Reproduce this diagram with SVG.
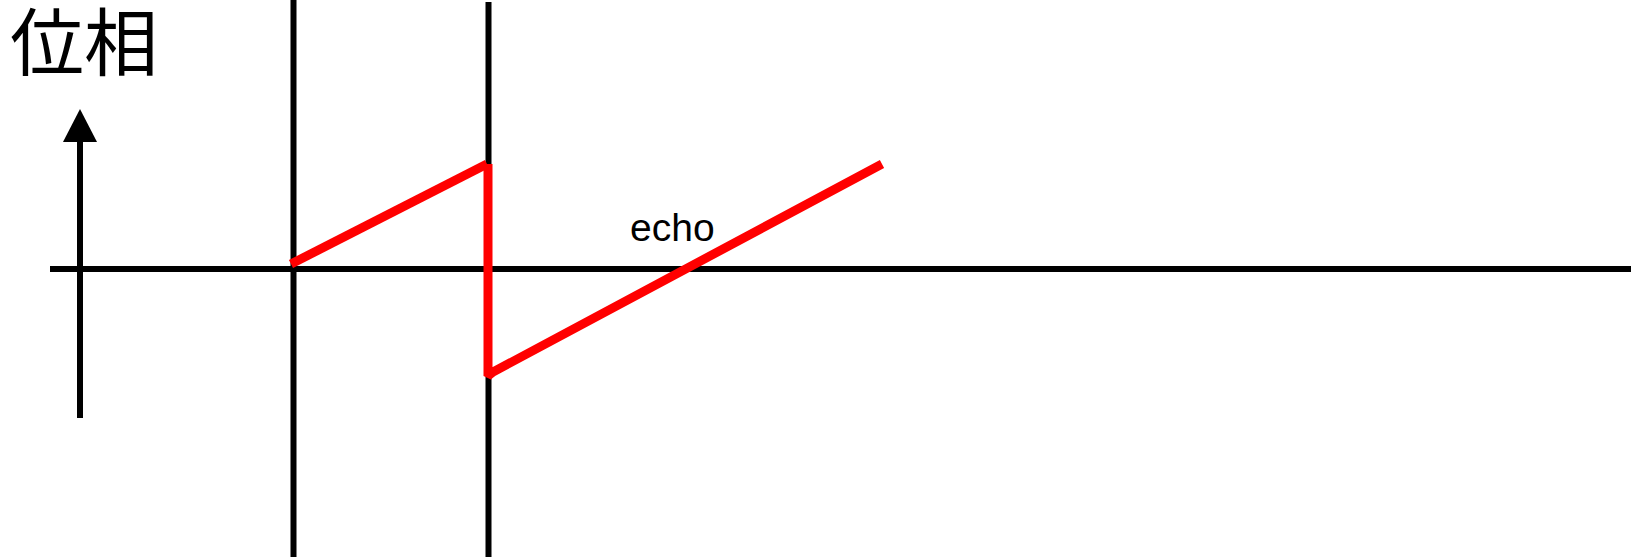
<svg xmlns="http://www.w3.org/2000/svg" width="1631" height="557" viewBox="0 0 1631 557">
<style>
.ax{stroke:#000;stroke-width:6;fill:none}
.sig{stroke:#f00;stroke-width:9;fill:none;stroke-linejoin:bevel}
.lbl{font-family:"Liberation Sans","Noto Sans CJK JP",sans-serif;fill:#000}
</style>
<rect width="1631" height="557" fill="#fff"/>
<g id="axes">
<line class="ax" x1="50" y1="269" x2="1631" y2="269"/>
<line class="ax" x1="80" y1="140" x2="80" y2="418"/>
<polygon points="80,109 63,142 97,142" fill="#000"/>
<line class="ax" x1="293.5" y1="0" x2="293.5" y2="557"/>
<line class="ax" x1="488.5" y1="2" x2="488.5" y2="557"/>
</g>
<g id="signal">
<polyline class="sig" points="291,264 487,164"/>
<polyline class="sig" points="488,164 488,376 493,372 882,164"/>
</g>
<g id="labels">
<text class="lbl" x="10" y="70" font-size="74" font-family="Noto Sans CJK JP">位相</text>
<text class="lbl" x="630" y="241" font-size="39">echo</text>
</g>
</svg>
